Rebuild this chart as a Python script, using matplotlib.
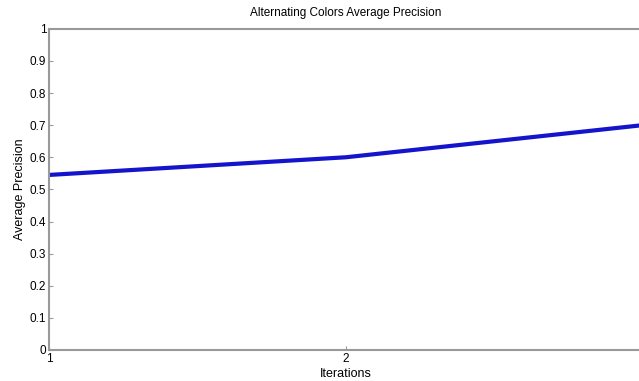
import matplotlib
matplotlib.use("Agg")
import matplotlib.pyplot as plt

iterations = [1, 2, 3]
avg_precision = [0.545, 0.600, 0.700]
x_ticks = [1, 2, 3]
x_labels = ["1", "2", ""]  # "3" sits beyond the right edge of the image
y_ticks = [0, 0.1, 0.2, 0.3, 0.4, 0.5, 0.6, 0.7, 0.8, 0.9, 1]
y_labels = ["0", "0.1", "0.2", "0.3", "0.4", "0.5", "0.6", "0.7", "0.8", "0.9", "1"]

plt.rcParams['font.family'] = ['Liberation Sans', 'DejaVu Sans']

fig = plt.figure(figsize=(6.39, 3.81), dpi=100)
ax = fig.add_axes([0.0767, 0.0814, 0.929, 0.843])

ax.plot(iterations, avg_precision, color='#1414cc', linewidth=3.0, solid_capstyle='butt')

ax.set_xlim(1, 3)
ax.set_ylim(0, 1)
ax.set_xticks(x_ticks)
ax.set_xticklabels(x_labels)
ax.set_yticks(y_ticks)
ax.set_yticklabels(y_labels)

for s in ax.spines.values():
    s.set_color('#999999')
    s.set_linewidth(1.5)

ax.tick_params(direction='in', length=3, color='#999999', labelsize=8.5, pad=2,
               right=True, top=False)

ax.set_title("Alternating Colors Average Precision", fontsize=8.5, pad=9)
ax.set_xlabel("Iterations", fontsize=9, labelpad=2)
ax.set_ylabel("Average Precision", fontsize=9, labelpad=3)

fig.savefig("out.png", dpi=100)
